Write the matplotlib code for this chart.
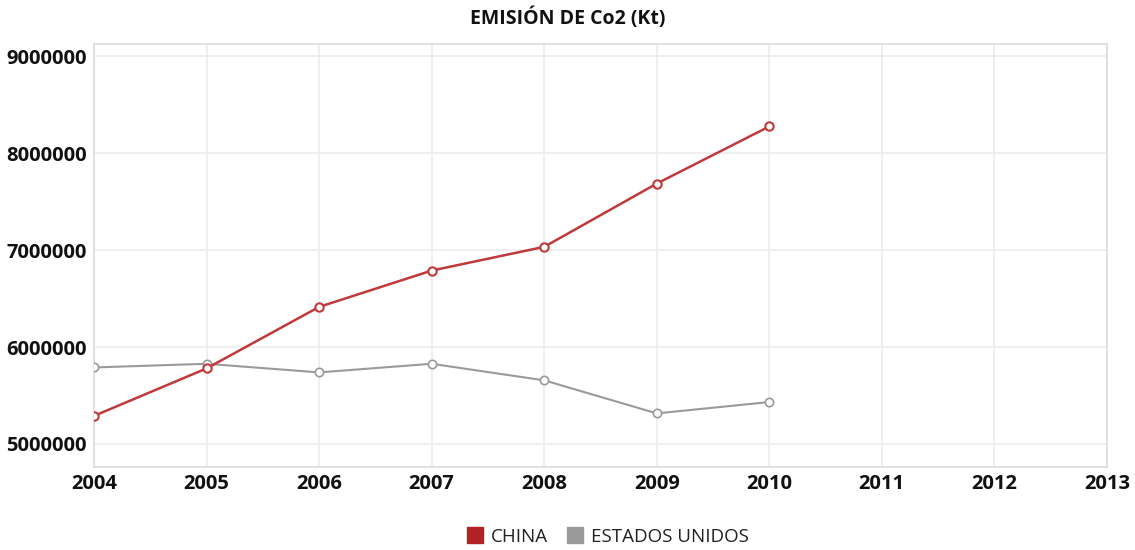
import matplotlib
matplotlib.use("Agg")
import matplotlib.pyplot as plt
import matplotlib.lines as mlines

plt.rcParams["font.family"] = ["Open Sans", "DejaVu Sans"]

# ── Data ──────────────────────────────────────────────────────────────────────
years = [2004, 2005, 2006, 2007, 2008, 2009, 2010]
china = [5290000, 5780000, 6415000, 6790000, 7035000, 7688000, 8278000]
usa = [5790000, 5828000, 5739000, 5828000, 5657000, 5316000, 5433000]
x_ticks = list(range(2004, 2014))
y_ticks = [5000000, 6000000, 7000000, 8000000, 9000000]

RED = "#c0393b"
GRAY = "#9a9a9a"

fig = plt.figure(figsize=(11.35, 5.5), dpi=100)
ax = fig.add_axes([0.0828, 0.151, 0.8925, 0.769])

ax.plot(years, china, color=RED, linewidth=1.8, marker="o", markersize=6,
        markerfacecolor="white", markeredgecolor=RED, markeredgewidth=1.5, zorder=4)
ax.plot(years, usa, color=GRAY, linewidth=1.5, marker="o", markersize=6,
        markerfacecolor="white", markeredgecolor=GRAY, markeredgewidth=1.2, zorder=3)

ax.set_xlim(2004, 2013)
ax.set_ylim(4763000, 9129000)
ax.set_xticks(x_ticks)
ax.set_yticks(y_ticks)
ax.set_yticklabels([str(v) for v in y_ticks])
ax.grid(True, color="#ececec", linewidth=1.2)
ax.set_axisbelow(True)
for s in ax.spines.values():
    s.set_color("#dcdcdc")
    s.set_linewidth(1.2)
ax.tick_params(length=0, labelsize=14.5, labelcolor="#111111", pad=5)
for lbl in ax.get_xticklabels() + ax.get_yticklabels():
    lbl.set_fontweight("bold")

fig.text(0.5, 0.967, "EMISIÓN DE Co2 (Kt)", ha="center", va="center",
         fontsize=14, fontweight="bold", color="#111111")

h1 = mlines.Line2D([], [], color="#b22222", marker="s", linestyle="none", markersize=12)
h2 = mlines.Line2D([], [], color=GRAY, marker="s", linestyle="none", markersize=12)
fig.legend(handles=[h1, h2], labels=["CHINA", "ESTADOS UNIDOS"], loc="center",
           bbox_to_anchor=(0.535, 0.024), ncol=2, frameon=False, fontsize=13.5,
           handlelength=1.0, handletextpad=0.35, columnspacing=0.9,
           labelcolor="#222222")

fig.savefig("out.png", dpi=100)
